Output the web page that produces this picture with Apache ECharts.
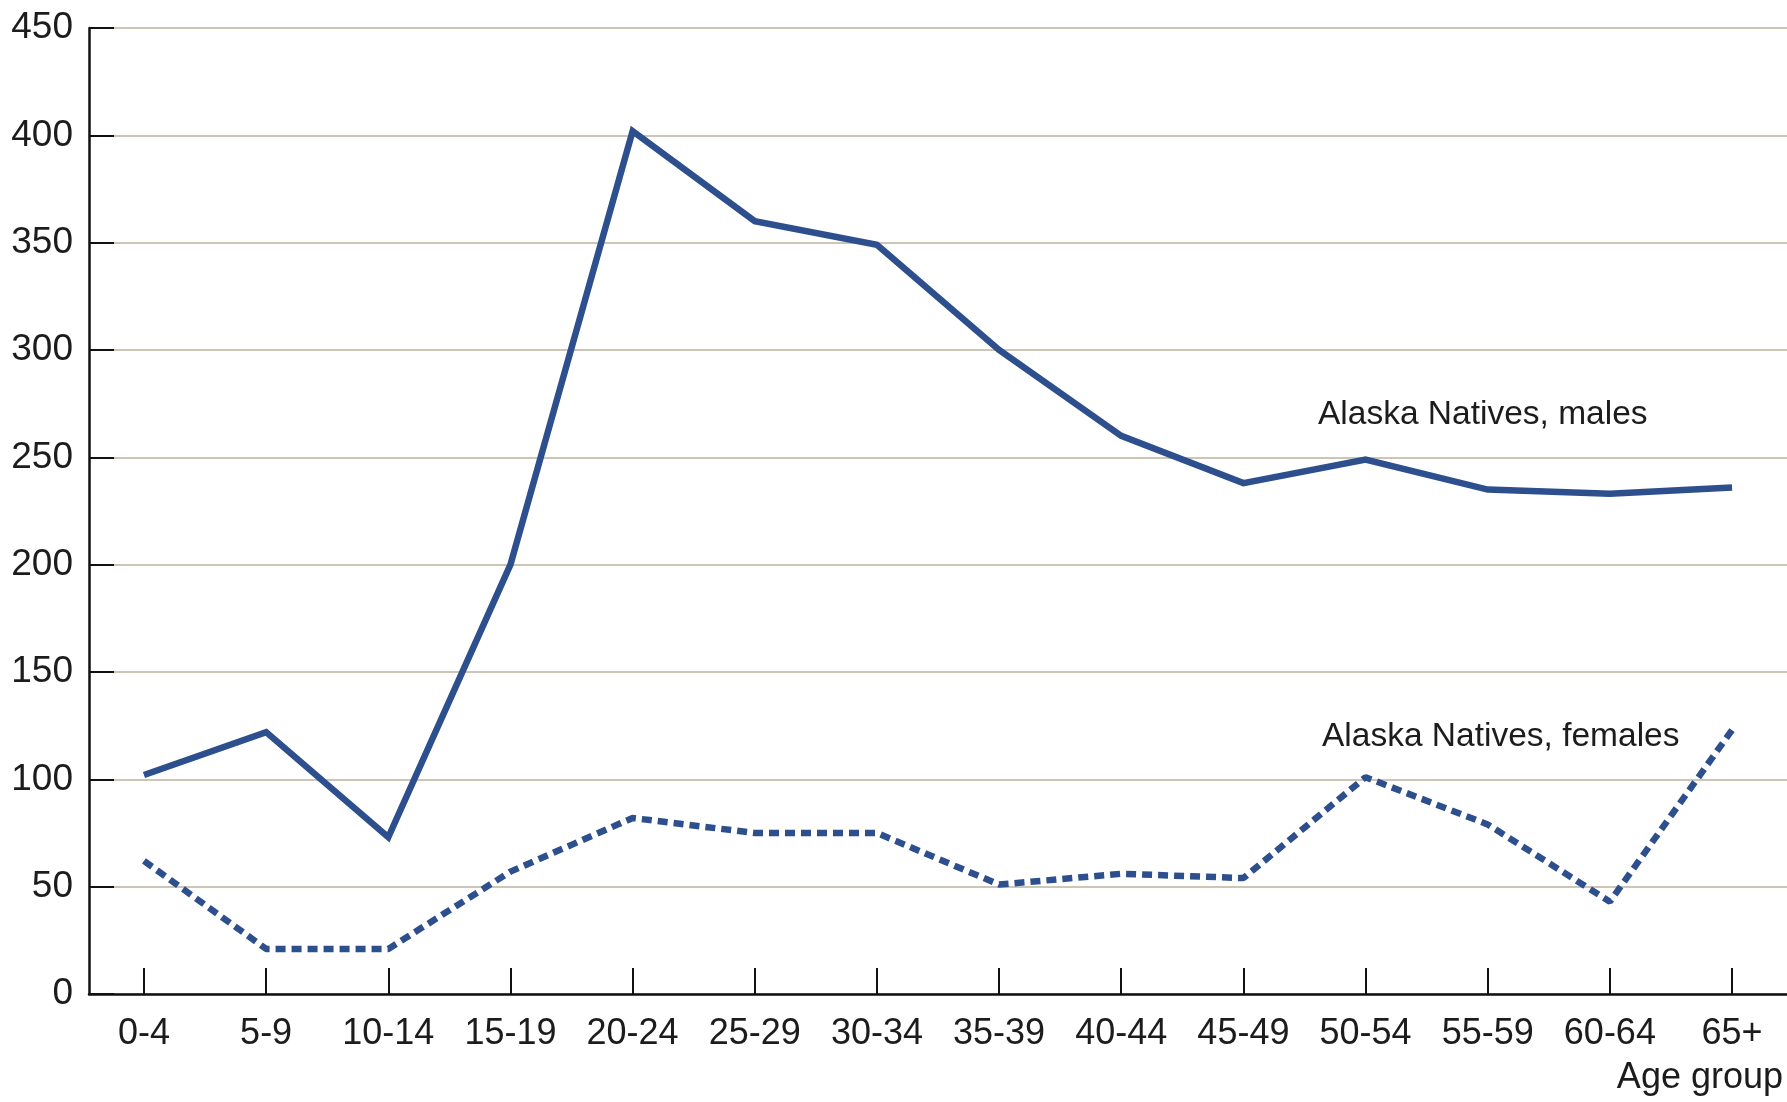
<!DOCTYPE html>
<html>
<head>
<meta charset="utf-8">
<script src="https://cdn.jsdelivr.net/npm/echarts@6/dist/echarts.min.js"></script>
<style>
html,body{margin:0;padding:0;background:#fff;}
#chart{width:1787px;height:1102px;}
</style>
</head>
<body>
<div id="chart"></div>
<script>
const categories = ['0-4','5-9','10-14','15-19','20-24','25-29','30-34','35-39','40-44','45-49','50-54','55-59','60-64','65+'];
const males   = [102, 122, 73, 200, 402, 360, 349, 300, 260, 238, 249, 235, 233, 236];
const females = [62, 21, 21, 57, 82, 75, 75, 51, 56, 54, 101, 79, 43, 123];
const yTicks = [0, 50, 100, 150, 200, 250, 300, 350, 400, 450];
const seriesNames = ['Alaska Natives, males', 'Alaska Natives, females'];
const xAxisName = 'Age group';

const FONT = "'Liberation Sans', Arial, Helvetica, sans-serif";
const TXT = '#1c1c1c';
const LINE = '#2d4f8e';
const idx = categories.map((c, i) => i);

const chart = echarts.init(document.getElementById('chart'), null, {renderer: 'canvas'});
chart.setOption({
  animation: false,
  backgroundColor: '#ffffff',
  grid: {left: 89, right: 0, top: 28, bottom: 108, containLabel: false},
  xAxis: {
    type: 'value',
    min: -0.45,
    max: categories.length - 1 + 0.45,
    axisLine: {show: true, onZero: false, lineStyle: {color: '#111', width: 2.5}},
    axisTick: {show: true, inside: true, length: 26, customValues: idx, lineStyle: {color: '#111', width: 2}},
    axisLabel: {
      show: true, customValues: idx, margin: 22,
      fontFamily: FONT, fontSize: 36, color: TXT,
      formatter: v => categories[Math.round(v)]
    },
    splitLine: {show: false}
  },
  yAxis: {
    type: 'value',
    min: yTicks[0],
    max: yTicks[yTicks.length - 1],
    interval: 50,
    axisLine: {show: true, onZero: false, lineStyle: {color: '#111', width: 2.5}},
    axisTick: {show: true, inside: true, length: 25, lineStyle: {color: '#111', width: 2}},
    axisLabel: {margin: 16, fontFamily: FONT, fontSize: 37, color: TXT},
    splitLine: {show: true, lineStyle: {color: '#cdc6b6', width: 2}}
  },
  series: [
    {
      name: seriesNames[0], type: 'line', symbol: 'none',
      data: males.map((v, i) => [i, v]),
      lineStyle: {color: LINE, width: 6.5, join: 'miter'}
    },
    {
      name: seriesNames[1], type: 'line', symbol: 'none',
      data: females.map((v, i) => [i, v]),
      lineStyle: {color: LINE, width: 6.5, type: [10, 6], cap: 'butt'}
    }
  ],
  graphic: [
    {type: 'text', left: 1318, top: 398, style: {text: seriesNames[0], font: "33.5px " + FONT, fill: TXT}},
    {type: 'text', left: 1322, top: 720, style: {text: seriesNames[1], font: "33.5px " + FONT, fill: TXT}},
    {type: 'text', right: 4, top: 1060, style: {text: xAxisName, font: "36px " + FONT, fill: TXT}}
  ]
});
</script>
</body>
</html>
